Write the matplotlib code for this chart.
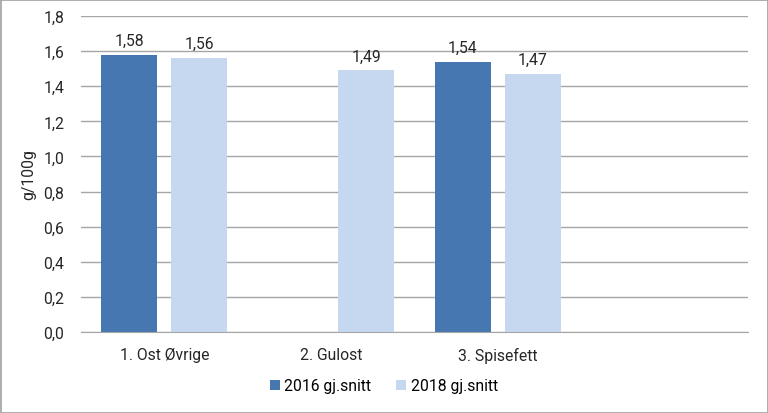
import matplotlib
matplotlib.use("Agg")
import matplotlib.pyplot as plt
import numpy as np
from matplotlib.patches import Rectangle

plt.rcParams['font.family'] = ['Roboto', 'DejaVu Sans']

categories = ["1. Ost Øvrige", "2. Gulost", "3. Spisefett", ""]
series_names = ["2016 gj.snitt", "2018 gj.snitt"]
values_2016 = [1.58, None, 1.54, None]
values_2018 = [1.56, 1.49, 1.47, None]
yticks = [0.0, 0.2, 0.4, 0.6, 0.8, 1.0, 1.2, 1.4, 1.6, 1.8]

colors = ["#4677B0", "#C5D8EF"]
FS = 11.3
TC = "#262626"

fig = plt.figure(figsize=(7.68, 4.14), dpi=100)
ax = fig.add_axes([81/768, 1-333/414, (748-81)/768, (333-17)/414])

x = np.arange(len(categories))
w = 0.336
off = 0.21
for vals, dx, c, name in [(values_2016, -off, colors[0], series_names[0]),
                          (values_2018, off, colors[1], series_names[1])]:
    xs = [xi + dx for xi, v in zip(x, vals) if v is not None]
    vs = [v for v in vals if v is not None]
    bars = ax.bar(xs, vs, width=w, color=c, label=name, zorder=3)
    for b, v in zip(bars, vs):
        ax.annotate(f"{v:.2f}".replace(".", ","), (b.get_x() + b.get_width()/2, v),
                    xytext=(0, 5), textcoords="offset points", ha="center", va="bottom",
                    fontsize=FS, color=TC)

ax.set_xlim(-0.5, len(categories) - 0.5)
ax.set_ylim(0, 1.8)
ax.set_yticks(yticks)
ax.set_yticklabels([f"{t:.1f}".replace(".", ",") for t in yticks], fontsize=FS, color=TC)
ax.set_xticks(x)
ax.set_xticklabels(categories, fontsize=FS, color=TC)
ax.tick_params(axis="x", length=0, pad=11)
ax.tick_params(axis="y", length=0, pad=12)
ax.grid(axis="y", color="#A6A6A6", linewidth=1, zorder=0)
for s in ["top", "right", "left"]:
    ax.spines[s].set_visible(False)
ax.spines["bottom"].set_color("#A6A6A6")
ax.spines["bottom"].set_zorder(4)
ax.set_ylabel("g/100g", fontsize=FS, color=TC, labelpad=5)

fig.legend(loc="center", bbox_to_anchor=(0.5, 1-387/414), ncol=2, frameon=False,
           fontsize=FS, handlelength=0.6, handleheight=0.6, columnspacing=1.6,
           handletextpad=0.3)

fig.patches.append(Rectangle((0.5/768, 0.5/414), 1-1/768, 1-1/414, transform=fig.transFigure,
                             fill=False, edgecolor="#A0A0A0", linewidth=1.2))

fig.savefig("out.png", dpi=100)
